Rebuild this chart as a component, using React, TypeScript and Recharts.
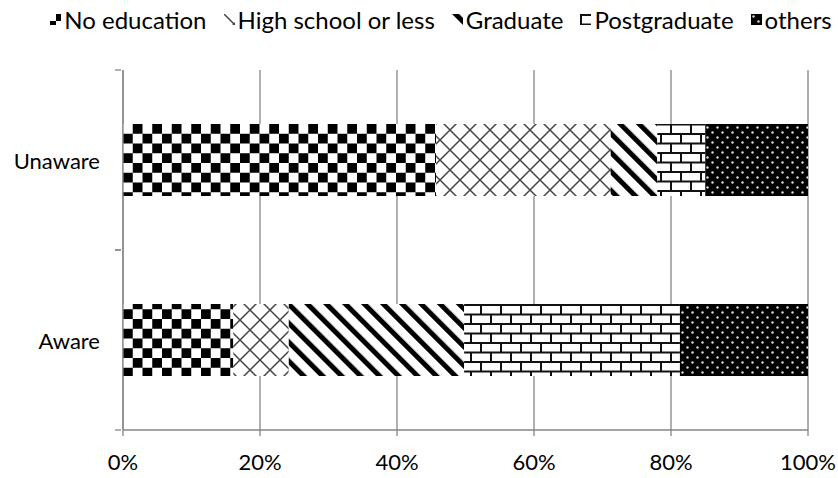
import React from 'react';
import { BarChart, Bar, XAxis, YAxis, CartesianGrid } from 'recharts';

const categories = ['Unaware', 'Aware'];
const noEducation = [45.7, 16.1];
const highSchool = [25.5, 8.1];
const graduate = [6.8, 25.6];
const postgraduate = [7.0, 31.5];
const others = [15.0, 18.7];
const xTicks = [0, 0.2, 0.4, 0.6, 0.8, 1];

const seriesNames = ['No education', 'High school or less', 'Graduate', 'Postgraduate', 'others'];
const seriesKeys = ['noEducation', 'highSchool', 'graduate', 'postgraduate', 'others'];
const patternIds = ['pChecker', 'pCross', 'pDiag', 'pBrick', 'pDots'];

const data = categories.map((name, i) => ({
  name,
  noEducation: noEducation[i],
  highSchool: highSchool[i],
  graduate: graduate[i],
  postgraduate: postgraduate[i],
  others: others[i],
}));

const W = 838;
const H = 478;
const M = { top: 70, right: 30, bottom: 0, left: 0 };
const XAXIS_H = 48;
const YAXIS_W = 123;
const PLOT_H = H - M.top - M.bottom - XAXIS_H;
const BAND = PLOT_H / categories.length;
const FONT = 'Lato, "Open Sans", sans-serif';
const AXIS_COLOR = '#868686';

const CategoryTick = (props: any) => {
  const { x, y, payload } = props;
  return (
    <g>
      <text x={x - 15} y={y} textAnchor="end" dominantBaseline="central" fontSize={22} fill="#000" fontFamily={FONT}>
        {payload.value}
      </text>
      <line x1={x} x2={x + 6} y1={y - BAND / 2} y2={y - BAND / 2} stroke={AXIS_COLOR} strokeWidth={1.3} />
      <line x1={x} x2={x + 6} y1={y + BAND / 2} y2={y + BAND / 2} stroke={AXIS_COLOR} strokeWidth={1.3} />
    </g>
  );
};

const LegendBlock = () => (
  <div
    style={{
      position: 'absolute',
      top: 5,
      left: 0,
      width: W,
      display: 'flex',
      justifyContent: 'center',
      alignItems: 'center',
      fontFamily: FONT,
      fontSize: 24,
      color: '#000',
      paddingLeft: 44,
      boxSizing: 'border-box',
      whiteSpace: 'nowrap',
    }}
  >
    {seriesNames.map((n, i) => (
      <div key={n} style={{ display: 'flex', alignItems: 'center', marginRight: i < seriesNames.length - 1 ? 17 : 0 }}>
        <svg width={11} height={11} style={{ marginRight: 3 }}>
          <rect x={0} y={0} width={11} height={11} fill={`url(#${patternIds[i]})`} />
        </svg>
        <span>{n}</span>
      </div>
    ))}
  </div>
);

export default function App() {
  return (
    <div style={{ position: 'absolute', left: 0, top: 0, width: W, height: H, background: '#fff' }}>
      <BarChart
        width={W}
        height={H}
        data={data}
        layout="vertical"
        stackOffset="expand"
        barCategoryGap="30%"
        margin={M}
      >
        <defs>
          <pattern id="pChecker" patternUnits="userSpaceOnUse" width={19.5} height={19.5} x={123} y={124}>
            <rect width={19.5} height={19.5} fill="#fff" />
            <rect x={9.75} y={0} width={9.75} height={9.75} fill="#000" />
            <rect x={0} y={9.75} width={9.75} height={9.75} fill="#000" />
          </pattern>
          <pattern id="pCross" patternUnits="userSpaceOnUse" width={20} height={20}>
            <rect width={20} height={20} fill="#fff" />
            <path d="M0,0 L20,20 M20,0 L0,20" stroke="#444" strokeWidth={1.5} />
          </pattern>
          <pattern id="pDiag" patternUnits="userSpaceOnUse" width={13.4} height={13.4} patternTransform="rotate(-45)">
            <rect width={13.4} height={13.4} fill="#fff" />
            <rect x={0} y={0} width={5} height={13.4} fill="#000" />
          </pattern>
          <pattern id="pBrick" patternUnits="userSpaceOnUse" width={20} height={19}>
            <rect width={20} height={19} fill="#fff" />
            <path d="M0,1 L20,1 M0,10.5 L20,10.5 M1,1 L1,10.5 M11,10.5 L11,19" stroke="#111" strokeWidth={2} />
          </pattern>
          <pattern id="pDots" patternUnits="userSpaceOnUse" width={10} height={10}>
            <rect width={10} height={10} fill="#000" />
            <circle cx={2.5} cy={2.5} r={1.2} fill="#ddd" />
            <circle cx={7.5} cy={7.5} r={1.2} fill="#ddd" />
          </pattern>
        </defs>
        <CartesianGrid horizontal={false} vertical stroke={AXIS_COLOR} strokeWidth={1.3} />
        <XAxis
          type="number"
          domain={[0, 1]}
          ticks={xTicks}
          tickFormatter={(v: number) => `${Math.round(v * 100)}%`}
          height={XAXIS_H}
          stroke={AXIS_COLOR}
          strokeWidth={1.3}
          tickSize={6}
          tickMargin={18}
          tick={{ fontSize: 22, fill: '#000', fontFamily: FONT }}
          interval={0}
        />
        <YAxis
          type="category"
          dataKey="name"
          width={YAXIS_W}
          stroke={AXIS_COLOR}
          strokeWidth={1.3}
          tickLine={false}
          tick={<CategoryTick />}
        />
        {seriesKeys.map((k, i) => (
          <Bar key={k} dataKey={k} name={seriesNames[i]} stackId="a" fill={`url(#${patternIds[i]})`} isAnimationActive={false} />
        ))}
      </BarChart>
      <LegendBlock />
    </div>
  );
}
